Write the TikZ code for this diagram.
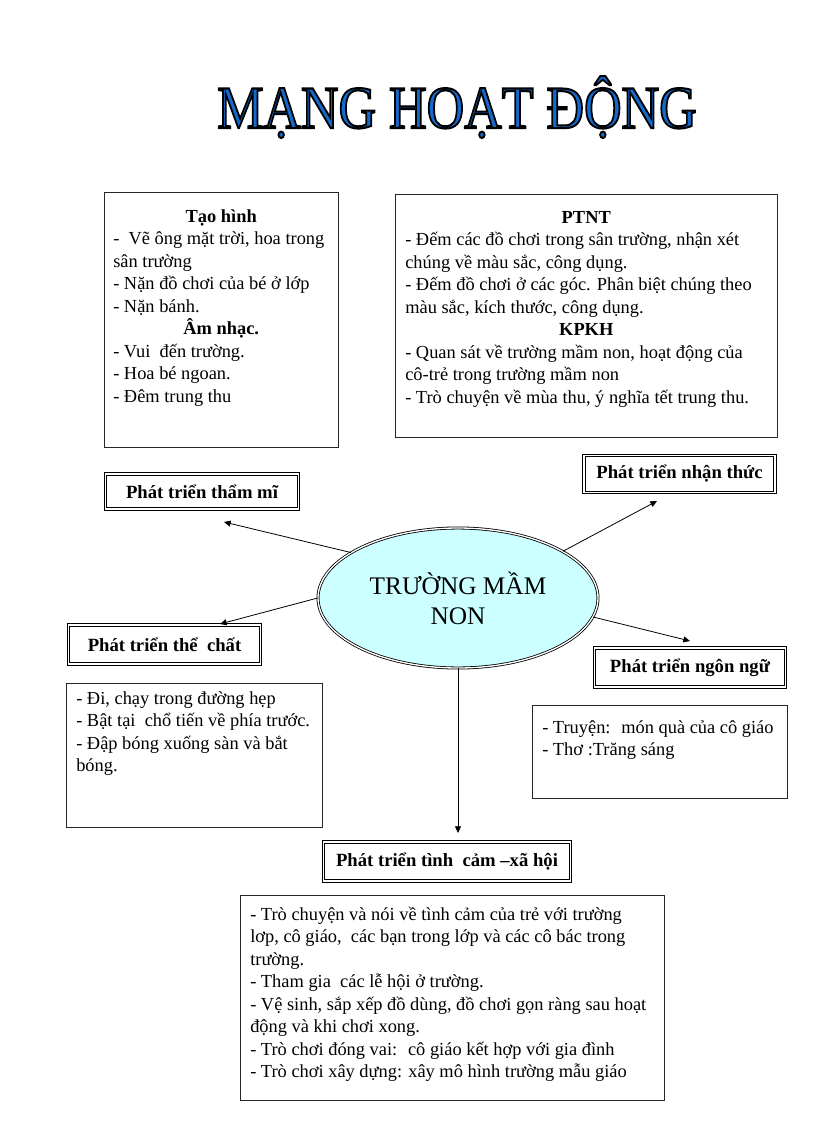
\documentclass[tikz,border=0pt]{standalone}
\usepackage{fontspec}
\setmainfont{Liberation Serif}
\usepackage{xcolor}
\usetikzlibrary{shapes.geometric,arrows.meta}
\definecolor{titleblue}{RGB}{20,105,205}
\definecolor{schoolcyan}{RGB}{204,255,255}
\newcommand{\bodyfont}{\fontsize{13.8}{16.9}\selectfont}
\newcommand{\headline}[2]{\makebox[#1]{\textbf{#2}}}
\newcommand{\outlined}[1]{\special{pdf:literal direct 0 0 0 RG 1.3 w 2 Tr}#1\special{pdf:literal direct 0 Tr}}

\begin{document}
\begin{tikzpicture}[x=0.75pt,y=-0.75pt,
    titlefont/.style={anchor=base, inner sep=0pt, text=titleblue, font=\fontsize{39}{40}\selectfont},
    notebox/.style={draw=black!85, line width=0.6pt, anchor=north west, inner sep=0pt},
    txt/.style={anchor=north west, inner sep=0pt, align=left, font=\bodyfont},
    areabox/.style={draw, double, double distance=1.2pt, line width=0.7pt, inner sep=0pt,
        font=\fontsize{14}{16}\selectfont\bfseries},
    arr/.style={line width=0.6pt, -{Triangle[length=5pt,width=4.5pt]}}]
    \useasboundingbox (0,0) rectangle (816,1123);

    % Title: blue letters with a black outline
    \node[titlefont] (title) at (457,128) {\scalebox{1}[1.16]{\outlined{MẠNG HOẠT ĐỘNG}}};

    % Top left box: Tao hinh / Am nhac
    \node[notebox, minimum width=175.5pt, minimum height=191.25pt] (tmBox) at (104,192) {};
    \node[txt] (tmText) at ([shift={(9,14)}]tmBox.north west) {%
        \strut\headline{162pt}{Tạo hình}\\
        - \ Vẽ ông mặt trời, hoa trong\\
        sân trường\\
        - Nặn đồ chơi của bé ở lớp\\
        - Nặn bánh.\\
        \headline{162pt}{Âm nhạc.}\\
        - Vui \ đến trường.\\
        - Hoa bé ngoan.\\
        - Đêm trung thu};

    % Top right box: PTNT / KPKH
    \node[notebox, minimum width=286.5pt, minimum height=182.25pt] (ptBox) at (395,194) {};
    \node[txt] (ptText) at ([shift={(10,13)}]ptBox.north west) {%
        \strut\headline{271.5pt}{PTNT}\\
        - Đếm các đồ chơi trong sân trường, nhận xét\\
        chúng về màu sắc, công dụng.\\
        - Đếm đồ chơi ở các góc. Phân biệt chúng theo\\
        màu sắc, kích thước, công dụng.\\
        \headline{271.5pt}{KPKH}\\
        - Quan sát về trường mầm non, hoạt động của\\
        cô-trẻ trong trường mầm non\\
        - Trò chuyện về mùa thu, ý nghĩa tết trung thu.};

    % Centre
    \node[ellipse, draw, double, double distance=1pt, line width=0.6pt, fill=schoolcyan,
        minimum width=210pt, minimum height=105pt, inner sep=0pt, align=center,
        font=\fontsize{19}{22.5}\selectfont] (school) at (458,598) {TRƯỜNG MẦM\\NON};

    % Areas
    \node[areabox, minimum width=145pt, minimum height=26pt] (tmLabel) at (202,491.5) {Phát triển thẩm mĩ};
    \node[areabox, minimum width=143pt, minimum height=28pt] (ntLabel) at (679.5,474) {Phát triển nhận thức};
    \node[areabox, minimum width=144pt, minimum height=29pt] (tcLabel) at (164.5,644.5) {Phát triển thể \ chất};
    \node[areabox, minimum width=143.5pt, minimum height=29pt] (nnLabel) at (690,667.5) {Phát triển ngôn ngữ};
    \node[areabox, minimum width=185.5pt, minimum height=29pt] (xhLabel) at (447,861.5) {Phát triển tình \ cảm –xã hội};

    % Arrows from the centre
    \coordinate (tmTip) at (224,522);
    \coordinate (ntTip) at (657,501);
    \coordinate (tcTip) at (220,624);
    \coordinate (nnTip) at (690,641);
    \coordinate (xhTip) at (458,833);
    \draw[arr] (school.157) -- (tmTip);
    \draw[arr] (school.24) -- (ntTip);
    \draw[arr] (school.180) -- (tcTip);
    \draw[arr] (school.-8) -- (nnTip);
    \draw[arr] (school.south) -- (xhTip);

    % Lower boxes
    \node[notebox, minimum width=192pt, minimum height=108pt] (tcBox) at (66,683) {};
    \node[txt] (tcText) at ([shift={(10,5)}]tcBox.north west) {%
        \strut- Đi, chạy trong đường hẹp\\
        - Bật tại \ chổ tiến về phía trước.\\
        - Đập bóng xuống sàn và bắt\\
        bóng.};

    \node[notebox, minimum width=191.25pt, minimum height=69.75pt] (nnBox) at (532,705) {};
    \node[txt] (nnText) at ([shift={(10,12)}]nnBox.north west) {%
        \strut- Truyện: \ món quà của cô giáo\\
        - Thơ :Trăng sáng};

    \node[notebox, minimum width=318pt, minimum height=153.75pt] (xhBox) at (240,895) {};
    \node[txt] (xhText) at ([shift={(10,9)}]xhBox.north west) {%
        \strut- Trò chuyện và nói về tình cảm của trẻ với trường\\
        lơp, cô giáo, \ các bạn trong lớp và các cô bác trong\\
        trường.\\
        - Tham gia \ các lễ hội ở trường.\\
        - Vệ sinh, sắp xếp đồ dùng, đồ chơi gọn ràng sau hoạt\\
        động và khi chơi xong.\\
        - Trò chơi đóng vai: \ cô giáo kết hợp với gia đình\\
        - Trò chơi xây dựng: xây mô hình trường mẫu giáo};
\end{tikzpicture}
\end{document}
